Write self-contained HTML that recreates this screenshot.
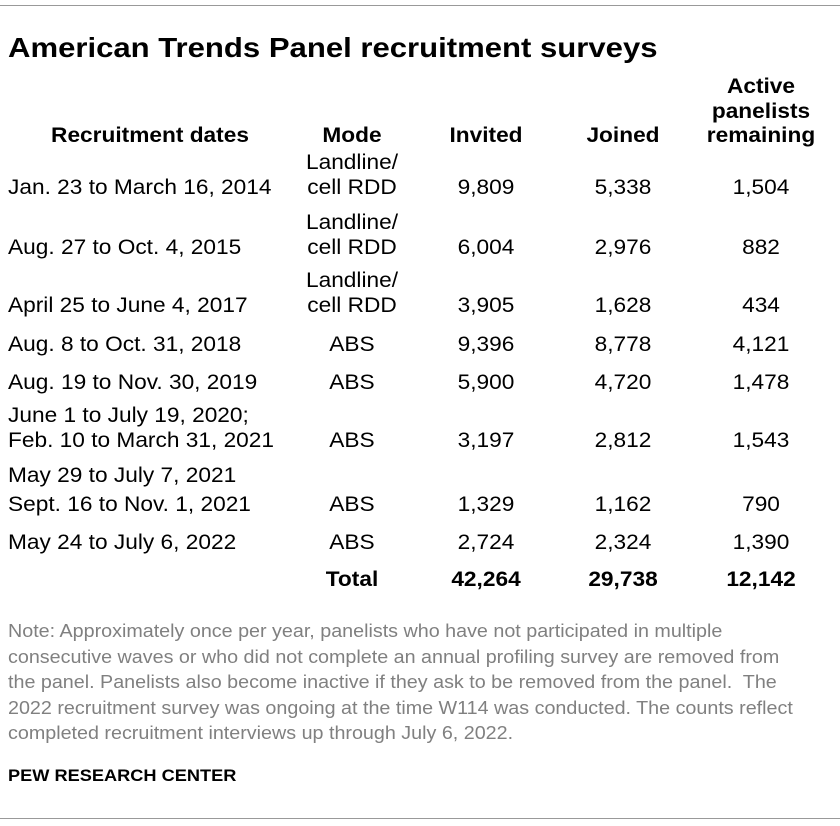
<!DOCTYPE html>
<html><head><meta charset="utf-8"><style>
body{margin:0;width:840px;height:826px;background:#fff;font-family:"Liberation Sans",Arial,sans-serif;color:#000;position:relative;overflow:hidden}
.t{position:absolute;white-space:nowrap;line-height:26px;height:26px;font-size:21px;transform:scaleX(1.08);transform-origin:left center}
.c{transform:translateX(-50%) scaleX(1.08);transform-origin:center center;text-align:center}
.b{font-weight:bold}
.n{position:absolute;left:8px;font-size:18px;color:#808080;line-height:25.5px;white-space:nowrap;transform:scaleX(1.095);transform-origin:left top}
.hr{position:absolute;left:0;width:840px;height:1px;background:#999}
</style></head><body>
<div class="hr" style="top:5px"></div>
<div class="t b" style="left:8px;top:30px;font-size:28px;line-height:36px;height:36px;transform:scaleX(1.11)">American Trends Panel recruitment surveys</div>
<div>
<div class="t b c" style="left:150px;top:123px">Recruitment dates</div>
<div class="t b c" style="left:352px;top:123px">Mode</div>
<div class="t b c" style="left:486px;top:123px">Invited</div>
<div class="t b c" style="left:623px;top:123px">Joined</div>
<div class="t b c" style="left:761px;top:75px;line-height:24.5px;height:auto">Active<br>panelists<br>remaining</div>
<div id="rows"></div>
</div>
<div class="n" style="top:619px">Note: Approximately once per year, panelists who have not participated in multiple<br>consecutive waves or who did not complete an annual profiling survey are removed from<br>the panel. Panelists also become inactive if they ask to be removed from the panel.&nbsp; The<br>2022 recruitment survey was ongoing at the time W114 was conducted. The counts reflect<br>completed recruitment interviews up through July 6, 2022.</div>
<div class="t b" style="left:8px;top:763px;font-size:17px;transform:scaleX(1.07)">PEW RESEARCH CENTER</div>
<div class="hr" style="top:818px"></div>
<script>
const dates=[["Jan. 23 to March 16, 2014"],["Aug. 27 to Oct. 4, 2015"],["April 25 to June 4, 2017"],["Aug. 8 to Oct. 31, 2018"],["Aug. 19 to Nov. 30, 2019"],["June 1 to July 19, 2020;","Feb. 10 to March 31, 2021"],["May 29 to July 7, 2021","Sept. 16 to Nov. 1, 2021"],["May 24 to July 6, 2022"]];
const modes=["Landline/ cell RDD","Landline/ cell RDD","Landline/ cell RDD","ABS","ABS","ABS","ABS","ABS"];
const invited=["9,809","6,004","3,905","9,396","5,900","3,197","1,329","2,724"];
const joined=["5,338","2,976","1,628","8,778","4,720","2,812","1,162","2,324"];
const active=["1,504","882","434","4,121","1,478","1,543","790","1,390"];
const rowY=[188,248,306,345,383,441,505,543];
const root=document.getElementById('rows');
function add(txt,x,y,center,bold,name){const d=document.createElement('div');d.className='t'+(center?' c':'')+(bold?' b':'');d.style.left=x+'px';d.style.top=(y-13)+'px';d.textContent=txt;


root.appendChild(d);}
for(let i=0;i<dates.length;i++){const y=rowY[i];
 if(dates[i].length==2){add(dates[i][0],8,y-(i==6?29:25),false,false,'date-row-'+(i+1));add(dates[i][1],8,y,false,false,'date-row-'+(i+1)+'-b');}
 else add(dates[i][0],8,y,false,false,'date-row-'+(i+1));
 const m=modes[i].split(' ');
 if(m.length>1){add(m[0],352,y-25,true,false,'mode-row-'+(i+1));add(m.slice(1).join(' '),352,y,true,false,'mode-row-'+(i+1)+'-b');}
 else add(modes[i],352,y,true,false,'mode-row-'+(i+1));
 add(invited[i],486,y,true,false,'invited-row-'+(i+1));
 add(joined[i],623,y,true,false,'joined-row-'+(i+1));
 add(active[i],761,y,true,false,'active-row-'+(i+1));
}
add("Total",352,580,true,true,'total-label');
add("42,264",486,580,true,true,'total-invited');
add("29,738",623,580,true,true,'total-joined');
add("12,142",761,580,true,true,'total-active');
</script>
</body></html>
